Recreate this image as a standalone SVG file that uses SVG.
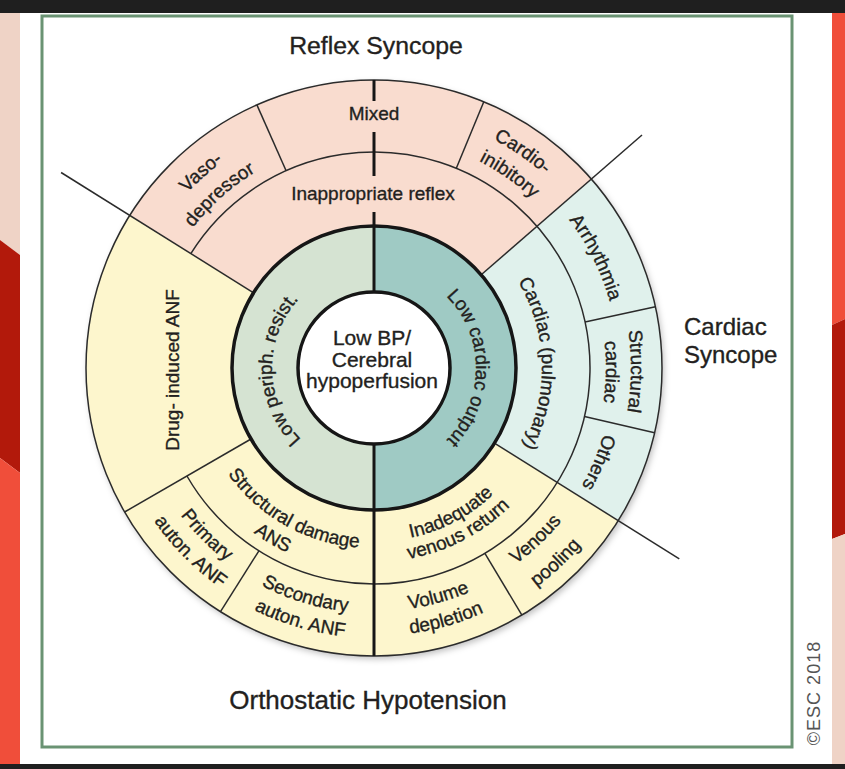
<svg xmlns="http://www.w3.org/2000/svg" width="845" height="769" viewBox="0 0 845 769">
<style>
.t{font-family:'Liberation Sans',Arial,sans-serif;font-size:19px;fill:#231f20;stroke:#231f20;stroke-width:0.35;text-anchor:middle}
.hd{font-family:'Liberation Sans',Arial,sans-serif;font-size:24px;fill:#231f20;stroke:#231f20;stroke-width:0.35}
.thin{stroke:#2b2b2b;stroke-width:1.5;fill:none}
.thick{stroke:#161616;stroke-width:3.5;fill:none}
</style>
<defs>
<filter id="sh" x="-10%" y="-10%" width="120%" height="120%"><feDropShadow dx="2" dy="3" stdDeviation="3" flood-color="#000" flood-opacity="0.25"/></filter>
<path id="pL1" d="M366.88,469.75 A102,102 0 0 1 363.34,266.56"/>
<path id="pL2" d="M382.89,266.39 A102,102 0 0 1 382.89,469.61"/>
<path id="pL3" d="M388.64,200.64 A168,168 0 0 1 388.64,535.36"/>
<path id="pL4" d="M284.21,140.05 A245,245 0 0 1 502.01,576.90"/>
<path id="pL5a" d="M399.53,112.27 A257,257 0 0 1 393.27,624.28"/>
<path id="pL5b" d="M398.25,137.27 A232,232 0 0 1 390.18,599.43"/>
<path id="pL6a" d="M168.21,520.27 A256,256 0 0 1 550.22,182.31"/>
<path id="pL6b" d="M190.39,504.86 A229,229 0 0 1 531.05,201.34"/>
<path id="pL7a" d="M174.92,203.89 A258,258 0 0 1 598.55,495.04"/>
<path id="pL7b" d="M196.28,218.87 A232,232 0 0 1 574.92,484"/>
<path id="pL8" d="M485.46,156.59 A239,239 0 0 1 300.94,595.56"/>
<path id="pI1" d="M212.96,295.29 A176,176 0 0 0 519.40,467.18"/>
<path id="pI2" d="M190.18,279.53 A204,204 0 0 0 539.66,487.05"/>
<path id="pI3" d="M187.85,211.80 A243,243 0 0 0 530.20,554.15"/>
<path id="pI4" d="M168.70,195.74 A268,268 0 0 0 546.27,573.30"/>
<path id="pI5" d="M134.18,317.90 A245,245 0 0 0 601.48,458.99"/>
<path id="pI6" d="M109.24,315.09 A270,270 0 0 0 625.56,466.08"/>
<path id="pI7" d="M231.10,461.17 A170,170 0 0 0 530.72,302.12"/>
<path id="pI8" d="M210.20,471.95 A194,194 0 0 0 553.36,294.07"/>
<path id="pI9" d="M146.13,454.10 A243.6,243.6 0 0 0 613.36,322.77"/>
<path id="pI10" d="M123.80,464.04 A268,268 0 0 0 637.08,316.86"/>
<path id="pI11" d="M213.12,548.78 A242,242 0 0 0 563.83,217.90"/>
<path id="pI12" d="M191.53,570.65 A272.7,272.7 0 0 0 588.89,200.11"/>
</defs>

<g id="frame">
<rect x="0" y="0" width="845" height="769" fill="#ffffff"/>
<rect x="0" y="0" width="845" height="13" fill="#1f1f1f"/>
<rect x="0" y="764" width="845" height="5" fill="#1f1f1f"/>
<polygon points="0,13 20,13 20,255 0,240" fill="#efd3c6"/>
<polygon points="0,240 20,255 20,473 0,458" fill="#b2190b"/>
<polygon points="0,458 20,473 20,764 0,764" fill="#f04e3a"/>
<polygon points="832,13 845,13 845,319 832,325" fill="#f04e3a"/>
<polygon points="832,325 845,319 845,534 832,539" fill="#b2190b"/>
<polygon points="832,539 845,534 845,764 832,764" fill="#efd3c6"/>
<rect x="42" y="16" width="750" height="731" fill="none" stroke="#6a9373" stroke-width="3"/>
<text transform="translate(820,693) rotate(-90)" style="font-family:'Liberation Sans',Arial,sans-serif;font-size:18px;letter-spacing:1px;fill:#555;text-anchor:middle">©ESC 2018</text>
</g>

<g id="base">
<circle cx="374" cy="368" r="288" fill="#fdf6cd" filter="url(#sh)"/>
</g>

<g id="reflex-syncope">
<path d="M591.4,179 A288,288 0 0 0 129.8,215.4 L253.6,292.8 A142,142 0 0 1 481.2,274.8 Z" fill="#f9dccf"/>
<text class="hd" x="376" y="54" text-anchor="middle" style="font-size:24.8px">Reflex Syncope</text>
<text class="t" x="374" y="120">Mixed</text>
<text class="t" x="373" y="200">Inappropriate reflex</text>
<text class="t"><textPath href="#pL6a" startOffset="50%">Vaso-</textPath></text>
<text class="t"><textPath href="#pL6b" startOffset="50%">depressor</textPath></text>
<text class="t"><textPath href="#pL7a" startOffset="50%">Cardio-</textPath></text>
<text class="t"><textPath href="#pL7b" startOffset="50%">inibitory</textPath></text>
</g>

<g id="cardiac-syncope">
<path d="M618.2,520.6 A288,288 0 0 0 591.4,179 L481.2,274.8 A142,142 0 0 1 494.4,443.2 Z" fill="#e0f1ec"/>
<text class="hd" x="684" y="335">Cardiac</text>
<text class="hd" x="684" y="363">Syncope</text>
<text class="t"><textPath href="#pL3" startOffset="49%">Cardiac (pulmonary)</textPath></text>
<text class="t"><textPath href="#pL4" startOffset="50%">Arrhythmia</textPath></text>
<text class="t"><textPath href="#pL5a" startOffset="50%">Structural</textPath></text>
<text class="t"><textPath href="#pL5b" startOffset="50%">cardiac</textPath></text>
<text class="t"><textPath href="#pL8" startOffset="50%">Others</textPath></text>
</g>

<g id="orthostatic-hypotension">
<text class="hd" x="368" y="709" text-anchor="middle" style="font-size:26px">Orthostatic Hypotension</text>
<text class="t" transform="translate(173,370) rotate(-90)" y="6">Drug- induced ANF</text>
<text class="t"><textPath href="#pI1" startOffset="50%">Structural damage</textPath></text>
<text class="t"><textPath href="#pI2" startOffset="50%">ANS</textPath></text>
<text class="t"><textPath href="#pI3" startOffset="50%">Primary</textPath></text>
<text class="t"><textPath href="#pI4" startOffset="50%">auton. ANF</textPath></text>
<text class="t"><textPath href="#pI5" startOffset="50%">Secondary</textPath></text>
<text class="t"><textPath href="#pI6" startOffset="50%">auton. ANF</textPath></text>
<text class="t"><textPath href="#pI7" startOffset="50%">Inadequate</textPath></text>
<text class="t"><textPath href="#pI8" startOffset="50%">venous return</textPath></text>
<text class="t"><textPath href="#pI9" startOffset="50%">Volume</textPath></text>
<text class="t"><textPath href="#pI10" startOffset="50%">depletion</textPath></text>
<text class="t"><textPath href="#pI11" startOffset="50%">Venous</textPath></text>
<text class="t"><textPath href="#pI12" startOffset="50%">pooling</textPath></text>
</g>

<g id="low-periph-resist">
<path d="M374,226 A142,142 0 0 0 374,510 Z" fill="#d5e3d2"/>
<text class="t"><textPath href="#pL1" startOffset="50%">Low periph. resist.</textPath></text>
</g>

<g id="low-cardiac-output">
<path d="M374,226 A142,142 0 0 1 374,510 Z" fill="#9fcac4"/>
<text class="t"><textPath href="#pL2" startOffset="50%">Low cardiac output</textPath></text>
</g>

<g id="connectors">
<circle class="thin" cx="374" cy="368" r="288"/>
<path class="thin" d="M186.94,476 A216,216 0 1 0 190.83,253.54"/>
<line class="thin" x1="253.6" y1="292.8" x2="61.1" y2="172.5"/>
<line class="thin" x1="481.2" y1="274.8" x2="642" y2="135"/>
<line class="thin" x1="494.4" y1="443.2" x2="679.3" y2="558.8"/>
<line class="thin" x1="251" y1="439" x2="124.6" y2="512"/>
<line class="thin" x1="286.1" y1="170.7" x2="256.9" y2="104.9"/>
<line class="thin" x1="456.3" y1="168.3" x2="483.8" y2="101.7"/>
<line class="thin" x1="585" y1="322" x2="655.4" y2="306.7"/>
<line class="thin" x1="584.5" y1="416.6" x2="654.6" y2="432.8"/>
<line class="thin" x1="258.9" y1="550.8" x2="220.5" y2="611.7"/>
<line class="thin" x1="484.9" y1="553.3" x2="521.9" y2="615.1"/>
<circle class="thick" cx="374" cy="368" r="142"/>
<g stroke="#161616" stroke-width="3">
<line x1="374" y1="80" x2="374" y2="101"/>
<line x1="374" y1="132" x2="374" y2="176"/>
<line x1="374" y1="212" x2="374" y2="292"/>
<line x1="374" y1="444" x2="374" y2="656"/>
</g>
</g>

<g id="center">
<circle cx="374" cy="368" r="76" fill="#ffffff" stroke="#161616" stroke-width="3.5"/>
<text class="t" style="font-size:21px" x="372" y="345">Low BP/</text>
<text class="t" style="font-size:21px" x="372" y="367">Cerebral</text>
<text class="t" style="font-size:21px" x="372" y="388">hypoperfusion</text>
</g>
</svg>
